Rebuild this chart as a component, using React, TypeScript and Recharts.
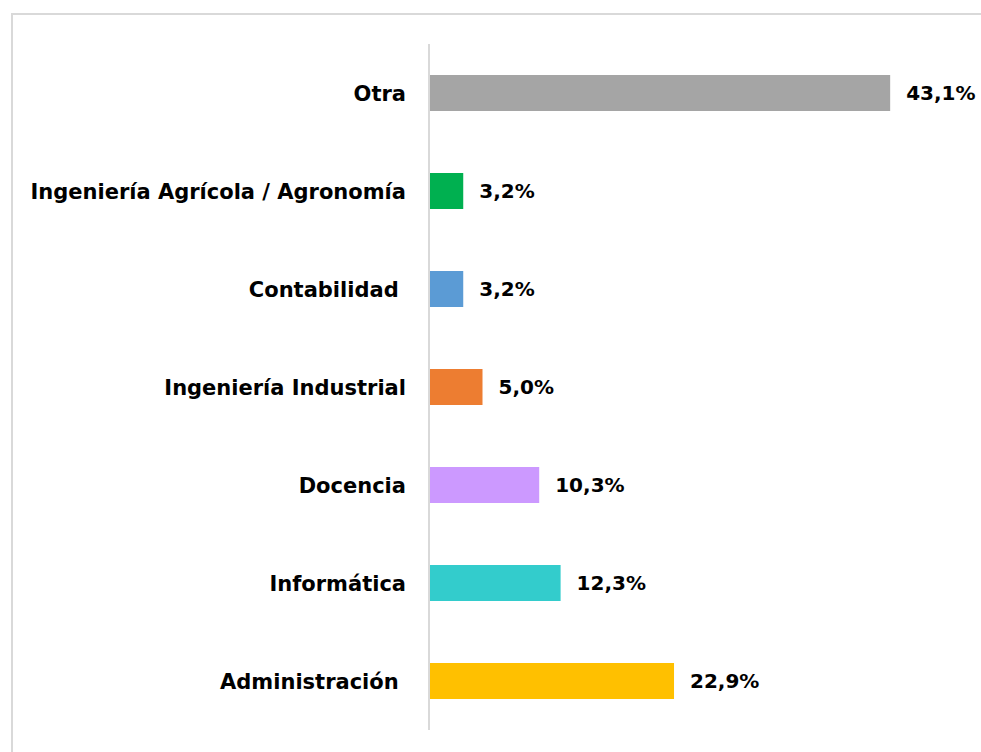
import React from 'react';
import { BarChart, Bar, XAxis, YAxis, Cell, LabelList } from 'recharts';

const categories = [
  'Otra',
  'Ingeniería Agrícola / Agronomía',
  'Contabilidad ',
  'Ingeniería Industrial',
  'Docencia',
  'Informática',
  'Administración ',
];
const values = [43.1, 3.2, 3.2, 5.0, 10.3, 12.3, 22.9];
const colors = ['#a5a5a5', '#00b050', '#5b9bd5', '#ed7d31', '#cc99ff', '#33cccc', '#ffc000'];

const data = categories.map((name, i) => ({ name, value: values[i] }));

const FONT = '"DejaVu Sans", sans-serif';

const CategoryTick = (props: any) => {
  const { x, y, payload } = props;
  return (
    <text
      x={x - 2}
      y={y}
      dy={7.5}
      textAnchor="end"
      fontFamily={FONT}
      fontWeight="bold"
      fontSize={21}
      fill="#000"
      style={{ whiteSpace: 'pre' }}
    >
      {payload.value}
    </text>
  );
};

export default function App() {
  return (
    <div style={{ position: 'fixed', left: 0, top: 0, width: 981, height: 752, overflow: 'hidden', background: '#fff' }}>
      <div
        style={{
          position: 'absolute',
          left: 11,
          top: 13,
          width: 1100,
          height: 900,
          border: '2px solid #d9d9d9',
          boxSizing: 'border-box',
        }}
      />
      <div style={{ position: 'absolute', left: 0, top: 0 }}>
        <BarChart
          width={981}
          height={752}
          data={data}
          layout="vertical"
          margin={{ top: 44, right: 17, bottom: 22, left: 0 }}
          barSize={36}
        >
          <XAxis type="number" domain={[0, 50]} hide />
          <YAxis
            type="category"
            dataKey="name"
            width={429}
            axisLine={{ stroke: '#d9d9d9', strokeWidth: 2 }}
            tickLine={false}
            tickMargin={15}
            tick={<CategoryTick />}
            interval={0}
          />
          <Bar dataKey="value" isAnimationActive={false}>
            {data.map((d, i) => (
              <Cell key={d.name} fill={colors[i]} />
            ))}
            <LabelList
              dataKey="value"
              position="right"
              offset={16}
              formatter={(v: any) => `${Number(v).toFixed(1).replace('.', ',')}%`}
              style={{ fontFamily: FONT, fontWeight: 'bold', fontSize: 20, fill: '#000' }}
            />
          </Bar>
        </BarChart>
      </div>
    </div>
  );
}
